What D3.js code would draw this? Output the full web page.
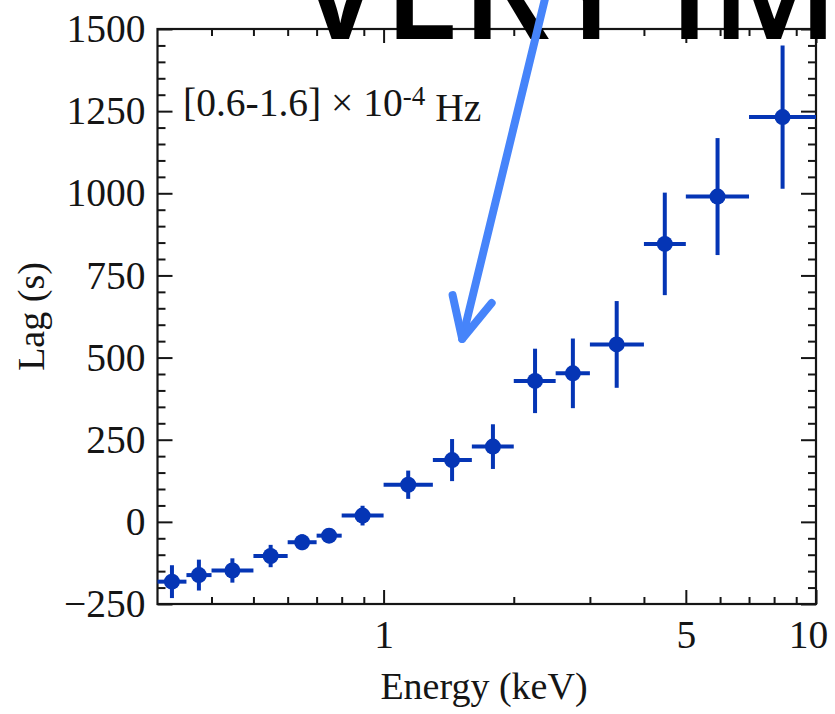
<!DOCTYPE html>
<html>
<head>
<meta charset="utf-8">
<script src="https://cdn.jsdelivr.net/npm/d3@7"></script>
<style>
  html, body { margin: 0; padding: 0; background: #fff; }
  svg { display: block; }
</style>
</head>
<body>
<svg id="chart" width="835" height="714"></svg>
<script>
// Energy bins (keV): lower edge, upper edge and bin centre
const energyLo = [0.3, 0.35, 0.4, 0.5, 0.6, 0.7, 0.8, 1.0, 1.3, 1.6, 2.0, 2.5, 3.0, 4.0, 5.0, 7.0];
const energyHi = [0.35, 0.4, 0.5, 0.6, 0.7, 0.8, 1.0, 1.3, 1.6, 2.0, 2.5, 3.0, 4.0, 5.0, 7.0, 10.0];
const energyMid = [0.324, 0.374, 0.447, 0.548, 0.648, 0.748, 0.894, 1.14, 1.44, 1.79, 2.24, 2.74, 3.46, 4.47, 5.92, 8.37];
// Lag (s) and its 1-sigma error
const lag = [-182, -162, -148, -104, -62, -42, 19, 113, 188, 229, 429, 452, 540, 846, 990, 1232];
const lagErr = [50, 47, 37, 34, 24, 12, 30, 43, 64, 68, 98, 106, 132, 156, 178, 218];

// Axis ticks
const xMajor = [1, 5, 10];
const xMinor = [0.4, 0.5, 0.6, 0.7, 0.8, 0.9, 2, 3, 4, 6, 7, 8, 9];
const yMajor = [-250, 0, 250, 500, 750, 1000, 1250, 1500];
const yMinor = d3.range(-200, 1500, 50).filter(v => v % 250 !== 0);

// Arrow annotation, in data units: [energy, lag]
const arrowShaft = [[2.37, 1600], [1.52, 557]];
const arrowHead = [[1.444, 690], [1.52, 557], [1.778, 666]];

const svg = d3.select("#chart");
const plotLeft = 157.5, plotRight = 816, plotTop = 29, plotBottom = 604;

const x = d3.scaleLog().domain([0.3, 10]).range([plotLeft, plotRight]);
const y = d3.scaleLinear().domain([-250, 1500]).range([plotBottom, plotTop]);

const serif = "'Liberation Serif', 'Times New Roman', serif";
const ink = "#151515";
const markColor = "#0535b5";

// Frame
svg.append("rect")
  .attr("x", plotLeft).attr("y", plotTop)
  .attr("width", plotRight - plotLeft).attr("height", plotBottom - plotTop)
  .attr("fill", "none").attr("stroke", ink).attr("stroke-width", 2.2);

function styleAxis(g) {
  g.select(".domain").remove();
  g.selectAll(".tick line").attr("stroke", ink).attr("stroke-width", 2);
  g.selectAll(".tick text")
    .attr("fill", ink)
    .style("font-family", serif)
    .style("font-size", "39.5px");
}

// Bottom axis: labelled major ticks and minor ticks, all pointing inward
svg.append("g").attr("transform", `translate(0,${plotBottom})`)
  .call(d3.axisBottom(x).tickValues(xMajor).tickSize(-14).tickPadding(16).tickFormat(d3.format("d")))
  .call(styleAxis)
  .call(g => g.selectAll(".tick text").attr("dx", d => d === 10 ? "-0.2em" : 0));
svg.append("g").attr("transform", `translate(0,${plotBottom})`)
  .call(d3.axisBottom(x).tickValues(xMinor).tickSize(-7).tickFormat(""))
  .call(styleAxis);

// Top axis
svg.append("g").attr("transform", `translate(0,${plotTop})`)
  .call(d3.axisTop(x).tickValues(xMajor).tickSize(-14).tickFormat(""))
  .call(styleAxis);
svg.append("g").attr("transform", `translate(0,${plotTop})`)
  .call(d3.axisTop(x).tickValues(xMinor).tickSize(-7).tickFormat(""))
  .call(styleAxis);

// Left axis
svg.append("g").attr("transform", `translate(${plotLeft},0)`)
  .call(d3.axisLeft(y).tickValues(yMajor).tickSize(-15).tickPadding(12).tickFormat(d3.format("d")))
  .call(styleAxis);
svg.append("g").attr("transform", `translate(${plotLeft},0)`)
  .call(d3.axisLeft(y).tickValues(yMinor).tickSize(-8).tickFormat(""))
  .call(styleAxis);

// Right axis
svg.append("g").attr("transform", `translate(${plotRight},0)`)
  .call(d3.axisRight(y).tickValues(yMajor).tickSize(-15).tickFormat(""))
  .call(styleAxis);
svg.append("g").attr("transform", `translate(${plotRight},0)`)
  .call(d3.axisRight(y).tickValues(yMinor).tickSize(-8).tickFormat(""))
  .call(styleAxis);

// Axis titles
svg.append("text")
  .attr("x", 484).attr("y", 699)
  .attr("text-anchor", "middle")
  .attr("fill", ink)
  .style("font-family", serif).style("font-size", "38px")
  .text("Energy (keV)");

svg.append("text")
  .attr("transform", `translate(44,${(plotTop + plotBottom) / 2}) rotate(-90)`)
  .attr("text-anchor", "middle")
  .attr("fill", ink)
  .style("font-family", serif).style("font-size", "38px")
  .text("Lag (s)");

// Frequency band label
const band = svg.append("text")
  .attr("x", 183).attr("y", 116)
  .attr("fill", ink)
  .style("font-family", serif).style("font-size", "39.5px");
band.append("tspan").text("[0.6-1.6] \u00d7 10");
band.append("tspan").attr("dy", "-0.42em").style("font-size", "27px").text("-4");
band.append("tspan").attr("dy", "0.42em").text(" Hz");

// Data points with energy-bin and lag error bars
const data = lag.map((v, i) => ({
  lo: energyLo[i], hi: energyHi[i], e: energyMid[i], v: v, err: lagErr[i]
}));

const pts = svg.append("g").attr("class", "points");
pts.selectAll("line.xerr").data(data).join("line")
  .attr("class", "xerr")
  .attr("x1", d => x(d.lo)).attr("x2", d => x(d.hi))
  .attr("y1", d => y(d.v)).attr("y2", d => y(d.v))
  .attr("stroke", markColor).attr("stroke-width", 4);
pts.selectAll("line.yerr").data(data).join("line")
  .attr("class", "yerr")
  .attr("x1", d => x(d.e)).attr("x2", d => x(d.e))
  .attr("y1", d => y(d.v - d.err)).attr("y2", d => y(d.v + d.err))
  .attr("stroke", markColor).attr("stroke-width", 4);
pts.selectAll("circle").data(data).join("circle")
  .attr("cx", d => x(d.e)).attr("cy", d => y(d.v))
  .attr("r", 8)
  .attr("fill", markColor);

// Overlaid caption and arrow
svg.append("text")
  .attr("x", 297).attr("y", 39)
  .attr("fill", "#000")
  .style("font-family", "'Open Sans', sans-serif")
  .style("font-weight", 600)
  .style("font-size", "139px")
  .text("VERY IMPORTANT");

const arrowLine = d3.line().x(d => x(d[0])).y(d => y(d[1]));
const arrow = svg.append("g")
  .attr("fill", "none")
  .attr("stroke", "#4684fa")
  .attr("stroke-width", 8)
  .attr("stroke-linecap", "round")
  .attr("stroke-linejoin", "round");
arrow.append("path").attr("d", arrowLine(arrowShaft));
arrow.append("path").attr("d", arrowLine(arrowHead));
</script>
</body>
</html>
